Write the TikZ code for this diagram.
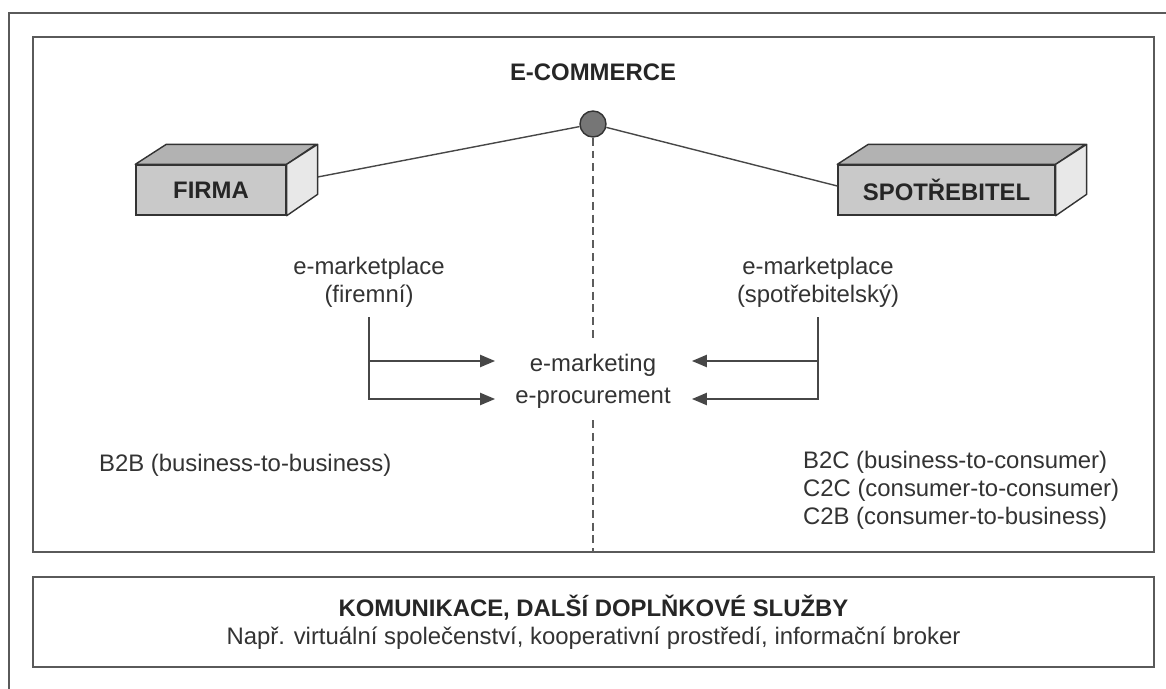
\documentclass[tikz,border=0pt]{standalone}
\usepackage{fontspec}
\setmainfont{Liberation Sans}
\usetikzlibrary{arrows.meta,calc}
\definecolor{ink}{HTML}{333333}
\definecolor{framecol}{HTML}{5A5A5A}
\definecolor{frontcol}{HTML}{C9C9C9}
\definecolor{topcol}{HTML}{B2B2B2}
\definecolor{sidecol}{HTML}{E8E8E8}
\definecolor{dotcol}{HTML}{767676}
\tikzset{
  txt/.style={font=\fontsize{13.6}{15.9}\selectfont, text=ink, inner sep=1pt},
  boldtxt/.style={txt, font=\fontsize{13.6}{15.9}\selectfont\bfseries, text=black!85},
  frame/.style={draw=framecol, line width=1.1pt},
  conn/.style={draw=ink!90, line width=0.8pt},
  arr/.style={conn, -{Triangle[length=8.5pt,width=7pt]}},
  dashedline/.style={draw=ink!80, line width=0.8pt, dash pattern=on 4.5pt off 2.8pt},
  frontbox/.style={boldtxt, draw=ink, fill=frontcol, line width=0.8pt, minimum height=1cm, inner sep=0pt},
  topface/.style={draw=ink, fill=topcol, line width=0.8pt, line join=round},
  sideface/.style={draw=ink, fill=sidecol, line width=0.8pt, line join=round},
  hub/.style={circle, draw=ink, fill=dotcol, line width=0.8pt, minimum size=0.52cm, inner sep=0pt}
}
\begin{document}
\begin{tikzpicture}[x=0.02cm,y=-0.02cm]
\useasboundingbox (0,0) rectangle (1166,689);
% outer frame (cropped)
\draw[frame] (9,689) -- (9,13) -- (1166,13);
% main box
\draw[frame] (33,37) rectangle (1154,552);

% hub and title
\node[boldtxt] (title) at (593,72) {E-COMMERCE};
\node[hub] (ec) at (593,124) {};

% FIRMA box
\node[frontbox, minimum width=3cm] (firma) at (211,190) {FIRMA};
\draw[topface] (firma.north west) -- ++(31,-20) -- ++(150,0) -- (firma.north east) -- cycle;
\draw[sideface] (firma.north east) -- ++(31,-20) -- ++(0,50) -- (firma.south east) -- cycle;

% SPOTREBITEL box
\node[frontbox, minimum width=4.34cm] (spot) at (946.5,190) {SPOTŘEBITEL};
\draw[topface] (spot.north west) -- ++(31,-20) -- ++(217,0) -- (spot.north east) -- cycle;
\draw[sideface] (spot.north east) -- ++(31,-20) -- ++(0,50) -- (spot.south east) -- cycle;

% connectors to hub
\coordinate (firmaR) at ($(firma.east)+(31,-13)$);
\draw[conn] (firmaR) -- (ec);
\coordinate (spotL) at ($(spot.west)+(0,-4)$);
\draw[conn] (ec) -- (spotL);

% central labels
\node[txt] (emkt) at (593,365) {e-marketing};
\node[txt] (eproc) at (593,398) {e-procurement};

% dashed axis
\coordinate (dtop) at (593,338);
\coordinate (dbot) at (593,420);
\coordinate (dend) at (593,552);
\draw[dashedline] (ec) -- (dtop);
\draw[dashedline] (dbot) -- (dend);

% marketplaces
\node[txt, align=center] (fm) at (369,282) {e-marketplace\\(firemní)};
\node[txt, align=center] (sm) at (818,282) {e-marketplace\\(spotřebitelský)};

% left arrows
\coordinate (fmS) at (369,317);
\coordinate (lj1) at (369,361);
\coordinate (lt1) at (495,361);
\coordinate (lt2) at (495,399);
\draw[arr] (fmS) |- (lt2);
\draw[arr] (lj1) -- (lt1);

% right arrows
\coordinate (smS) at (818,317);
\coordinate (rj1) at (818,361);
\coordinate (rt1) at (692,361);
\coordinate (rt2) at (692,399);
\draw[arr] (smS) |- (rt2);
\draw[arr] (rj1) -- (rt1);

% business models
\node[txt, anchor=west] (b2b) at (97,465) {B2B (business-to-business)};
\node[txt, anchor=west, align=left] (b2c) at (801,490) {B2C (business-to-consumer)\\C2C (consumer-to-consumer)\\C2B (consumer-to-business)};

% bottom box
\node[frame, txt, align=center, minimum width=22.42cm, minimum height=1.8cm, inner sep=0pt] (kom) at (593.5,622)
  {{\bfseries\color{black!85}KOMUNIKACE, DALŠÍ DOPLŇKOVÉ SLUŽBY}\\Např. virtuální společenství, kooperativní prostředí, informační broker};
\end{tikzpicture}
\end{document}
